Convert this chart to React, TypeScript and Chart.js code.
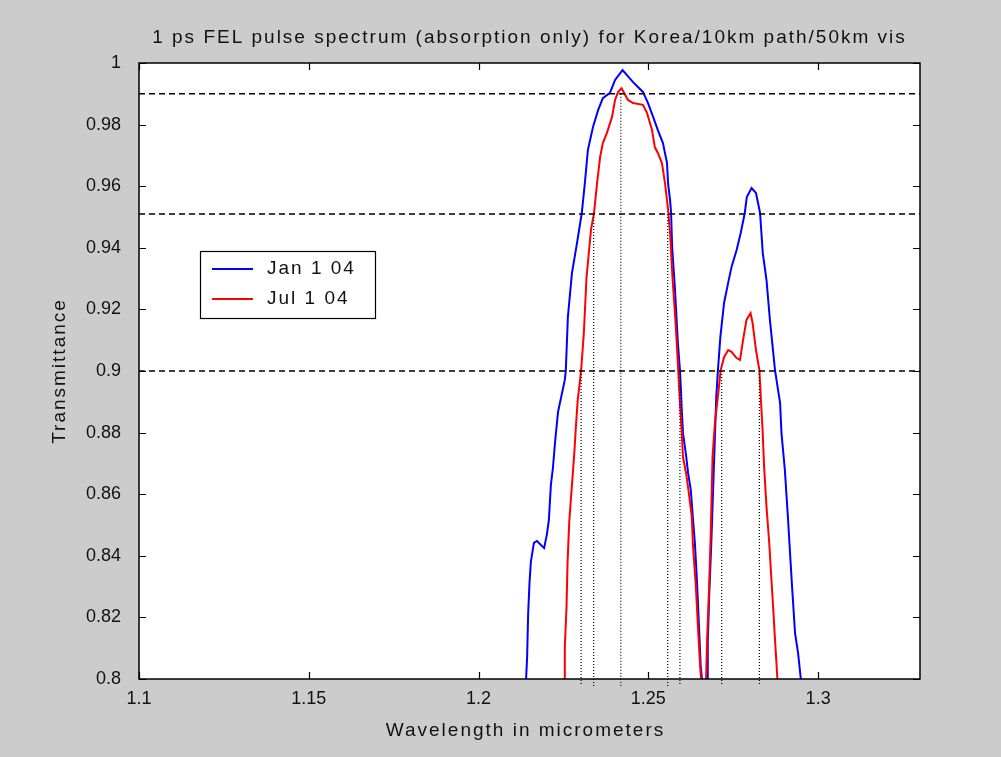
import React, { useEffect, useRef } from "react";
import { Chart, registerables } from "chart.js";

Chart.register(...registerables);

// ---------------- data ----------------
const chartTitle = "1 ps FEL pulse spectrum (absorption only) for Korea/10km path/50km vis";
const xAxisTitle = "Wavelength in micrometers";
const yAxisTitle = "Transmittance";

const xMin = 1.1;
const xMax = 1.33;
const yMin = 0.8;
const yMax = 1.0;

const xTickValues = [1.1, 1.15, 1.2, 1.25, 1.3];
const xTickLabels = ["1.1", "1.15", "1.2", "1.25", "1.3"];
const yTickValues = [0.8, 0.82, 0.84, 0.86, 0.88, 0.9, 0.92, 0.94, 0.96, 0.98, 1.0];
const yTickLabels = ["0.8", "0.82", "0.84", "0.86", "0.88", "0.9", "0.92", "0.94", "0.96", "0.98", "1"];

const seriesLabels = ["Jan 1 04", "Jul 1 04"];
const seriesColors = ["#0000ff", "#ff0000"];

const janWavelength = [
  1.214, 1.214, 1.2143, 1.2146, 1.215, 1.2154, 1.2163, 1.2172, 1.2193, 1.2201,
  1.2207, 1.2213, 1.2219, 1.2225, 1.2234, 1.2254, 1.2257, 1.2263, 1.2275, 1.229,
  1.2304, 1.2313, 1.2322, 1.2337, 1.2352, 1.2366, 1.2387, 1.2402, 1.2424, 1.2455,
  1.2484, 1.2499, 1.2514, 1.2528, 1.2543, 1.2555, 1.2558, 1.2564, 1.2567, 1.257,
  1.2578, 1.2587, 1.2593, 1.2596, 1.2598, 1.2602, 1.2611, 1.2617, 1.2625, 1.2631,
  1.2637, 1.2643, 1.2649, 1.2654, 1.2658, 1.2665, 1.2673, 1.2675, 1.2679, 1.2685,
  1.269, 1.2695, 1.27, 1.2705, 1.2712, 1.2723, 1.2735, 1.2745, 1.276, 1.2772,
  1.2784, 1.279, 1.2804, 1.2817, 1.2829, 1.2837, 1.2848, 1.2858, 1.2873, 1.2888,
  1.2892, 1.2902, 1.2911, 1.2922, 1.2932, 1.2941, 1.2949, 1.2952,
];
const janTransmittance = [
  0.795, 0.8, 0.8071, 0.8211, 0.8312, 0.838, 0.8442, 0.8448, 0.8425, 0.8468,
  0.8516, 0.863, 0.8685, 0.8766, 0.8867, 0.8971, 0.9003, 0.9175, 0.9318, 0.9416,
  0.9513, 0.961, 0.9718, 0.9792, 0.9847, 0.9886, 0.9903, 0.9945, 0.9977, 0.9938,
  0.9906, 0.987, 0.9825, 0.9782, 0.974, 0.9675, 0.961, 0.9555, 0.9513, 0.9403,
  0.9273, 0.9091, 0.9003, 0.8938, 0.8883, 0.8799, 0.8727, 0.8669, 0.8614, 0.8526,
  0.8442, 0.8321, 0.8175, 0.8045, 0.8, 0.78, 0.795, 0.8117, 0.8266, 0.8429,
  0.8591, 0.8753, 0.8916, 0.9003, 0.911, 0.9221, 0.9286, 0.9338, 0.9393, 0.9448,
  0.9513, 0.9565, 0.9594, 0.9578, 0.9513, 0.9383, 0.9295, 0.9166, 0.9003, 0.8896,
  0.8799, 0.8679, 0.8526, 0.8321, 0.8149, 0.8084, 0.8, 0.793,
];

const julWavelength = [
  1.2251, 1.2252, 1.2254, 1.2259, 1.2262, 1.2267, 1.2282, 1.2286, 1.2292, 1.2299,
  1.2302, 1.231, 1.2318, 1.2331, 1.234, 1.2349, 1.2358, 1.2366, 1.2378, 1.2393,
  1.2402, 1.2411, 1.2421, 1.244, 1.2455, 1.2484, 1.2496, 1.2511, 1.2519, 1.2528,
  1.254, 1.2549, 1.2555, 1.2559, 1.2564, 1.2571, 1.2581, 1.2588, 1.2593, 1.2598,
  1.2602, 1.2611, 1.2618, 1.2628, 1.2631, 1.264, 1.2647, 1.2652, 1.2655, 1.2663,
  1.2668, 1.267, 1.2673, 1.2679, 1.2684, 1.2689, 1.2696, 1.2706, 1.2713, 1.2723,
  1.2735, 1.2745, 1.276, 1.277, 1.2779, 1.2789, 1.2801, 1.2807, 1.2817, 1.2827,
  1.2832, 1.2836, 1.2841, 1.2848, 1.2856, 1.2862, 1.2868, 1.2873, 1.2878, 1.288,
  1.2882,
];
const julTransmittance = [
  0.795, 0.8, 0.8104, 0.8234, 0.8377, 0.851, 0.8734, 0.8808, 0.8906, 0.8971,
  0.9003, 0.9123, 0.9305, 0.9458, 0.9513, 0.961, 0.9695, 0.974, 0.9773, 0.9825,
  0.988, 0.9906, 0.9918, 0.988, 0.987, 0.9864, 0.9838, 0.9782, 0.9727, 0.9708,
  0.9675, 0.961, 0.9555, 0.9513, 0.9448, 0.9305, 0.9143, 0.9003, 0.8896, 0.8808,
  0.8721, 0.8669, 0.8614, 0.8526, 0.8442, 0.8299, 0.8149, 0.8052, 0.8, 0.78,
  0.795, 0.8, 0.8127, 0.8299, 0.8484, 0.8721, 0.8831, 0.8929, 0.9003, 0.9045,
  0.9068, 0.9062, 0.9042, 0.9036, 0.9101, 0.9166, 0.9188, 0.9156, 0.9068, 0.9003,
  0.8896, 0.8818, 0.8688, 0.8558, 0.8442, 0.8331, 0.8224, 0.8127, 0.8039, 0.8,
  0.795,
];

const thresholdLevels = [0.99, 0.951, 0.9];
const crossingWavelengths = [1.2302, 1.2339, 1.2419, 1.2557, 1.2593, 1.2716, 1.2827];
const crossingLevels = [0.9, 0.951, 0.99, 0.951, 0.9, 0.9, 0.9];
const dropBelowAxis = 0.7977;

// ---------------- helpers ----------------
const FONT_FAMILY = '"Liberation Sans", Arial, Helvetica, sans-serif';

function zip(xs: number[], ys: number[]) {
  return xs.map((x, i) => ({ x, y: ys[i] }));
}

const matlabPlugin = {
  id: "matlabDecor",
  beforeDraw(chart: any) {
    const { ctx, chartArea } = chart;
    ctx.save();
    ctx.fillStyle = "#ffffff";
    ctx.fillRect(chartArea.left, chartArea.top, chartArea.right - chartArea.left, chartArea.bottom - chartArea.top);
    ctx.restore();
  },
  afterDraw(chart: any) {
    const { ctx, chartArea } = chart;
    const { left, top, right, bottom } = chartArea;
    const xs = chart.scales.x;
    const ys = chart.scales.y;
    ctx.save();
    // box
    ctx.strokeStyle = "#000";
    ctx.lineWidth = 1.5;
    ctx.strokeRect(left, top, right - left, bottom - top);
    // inward ticks
    ctx.lineWidth = 1.2;
    const tl = 7;
    ctx.beginPath();
    xTickValues.forEach((v) => {
      const px = Math.round(xs.getPixelForValue(v)) + 0.5;
      ctx.moveTo(px, bottom);
      ctx.lineTo(px, bottom - tl);
      ctx.moveTo(px, top);
      ctx.lineTo(px, top + tl);
    });
    yTickValues.forEach((v) => {
      const py = Math.round(ys.getPixelForValue(v)) + 0.5;
      ctx.moveTo(left, py);
      ctx.lineTo(left + tl, py);
      ctx.moveTo(right, py);
      ctx.lineTo(right - tl, py);
    });
    ctx.stroke();

    // texts
    ctx.fillStyle = "#111";
    ctx.font = `19px ${FONT_FAMILY}`;
    (ctx as any).letterSpacing = "2px";
    ctx.textAlign = "center";
    ctx.textBaseline = "middle";
    const cx = (left + right) / 2;
    ctx.fillText(chartTitle, cx, 38);
    ctx.fillText(xAxisTitle, cx - 4, 731);
    ctx.save();
    ctx.translate(60, (top + bottom) / 2);
    ctx.rotate(-Math.PI / 2);
    ctx.fillText(yAxisTitle, 0, 0);
    ctx.restore();

    // legend
    const lx = left + 61;
    const ly = top + 188;
    const lw = 175;
    const lh = 67;
    ctx.fillStyle = "#fff";
    ctx.fillRect(lx, ly, lw, lh);
    ctx.strokeStyle = "#000";
    ctx.lineWidth = 1.2;
    ctx.strokeRect(lx + 0.5, ly + 0.5, lw, lh);
    seriesLabels.forEach((lab, i) => {
      const yy = ly + 18 + i * 30;
      ctx.strokeStyle = seriesColors[i];
      ctx.lineWidth = 2;
      ctx.beginPath();
      ctx.moveTo(lx + 12, yy);
      ctx.lineTo(lx + 53, yy);
      ctx.stroke();
      ctx.fillStyle = "#111";
      ctx.textAlign = "left";
      ctx.fillText(lab, lx + 67, yy);
    });
    (ctx as any).letterSpacing = "0px";
    ctx.restore();
  },
};

export default function App() {
  const canvasRef = useRef<HTMLCanvasElement | null>(null);

  useEffect(() => {
    if (!canvasRef.current) return;
    const datasets: any[] = [];
    thresholdLevels.forEach((lvl) => {
      datasets.push({
        data: [
          { x: xMin, y: lvl },
          { x: xMax, y: lvl },
        ],
        borderColor: "#000",
        borderWidth: 1.5,
        borderDash: [6, 4],
        pointRadius: 0,
        fill: false,
      });
    });
    crossingWavelengths.forEach((w, i) => {
      datasets.push({
        data: [
          { x: w, y: crossingLevels[i] },
          { x: w, y: dropBelowAxis },
        ],
        borderColor: "#000",
        borderWidth: 1.2,
        borderDash: [1, 2],
        pointRadius: 0,
        fill: false,
        clip: { left: 0, top: 0, right: 0, bottom: 10 },
      });
    });
    datasets.push({
      label: seriesLabels[1],
      data: zip(julWavelength, julTransmittance),
      borderColor: seriesColors[1],
      borderWidth: 2,
      pointRadius: 0,
      tension: 0,
      fill: false,
    });
    datasets.push({
      label: seriesLabels[0],
      data: zip(janWavelength, janTransmittance),
      borderColor: seriesColors[0],
      borderWidth: 2,
      pointRadius: 0,
      tension: 0,
      fill: false,
    });

    const chart = new Chart(canvasRef.current, {
      type: "line",
      data: { datasets },
      options: {
        animation: false,
        responsive: false,
        parsing: false as any,
        layout: { padding: { top: 63, right: 81, left: 0, bottom: 0 } },
        plugins: {
          legend: { display: false },
          title: { display: false },
          tooltip: { enabled: false },
        },
        scales: {
          x: {
            type: "linear",
            min: xMin,
            max: xMax,
            grid: { display: false, drawTicks: false },
            border: { display: false },
            afterBuildTicks: (scale: any) => {
              scale.ticks = xTickValues.map((v) => ({ value: v }));
            },
            afterFit: (scale: any) => {
              scale.height = 78;
            },
            ticks: {
              padding: 9,
              color: "#111",
              font: { family: FONT_FAMILY, size: 18 },
              maxRotation: 0,
              autoSkip: false,
              callback: (_v: any, i: number) => xTickLabels[i],
            },
          },
          y: {
            type: "linear",
            min: yMin,
            max: yMax,
            grid: { display: false, drawTicks: false },
            border: { display: false },
            afterBuildTicks: (scale: any) => {
              scale.ticks = yTickValues.map((v) => ({ value: v }));
            },
            afterFit: (scale: any) => {
              scale.width = 139;
            },
            ticks: {
              padding: 18,
              color: "#111",
              font: { family: FONT_FAMILY, size: 18 },
              autoSkip: false,
              callback: (_v: any, i: number) => yTickLabels[i],
            },
          },
        },
      },
      plugins: [matlabPlugin],
    });
    return () => chart.destroy();
  }, []);

  return (
    <div
      style={{
        position: "absolute",
        left: 0,
        top: 0,
        width: 1001,
        height: 757,
        background: "#cccccc",
      }}
    >
      <canvas ref={canvasRef} width={1001} height={757} style={{ display: "block" }} />
    </div>
  );
}
